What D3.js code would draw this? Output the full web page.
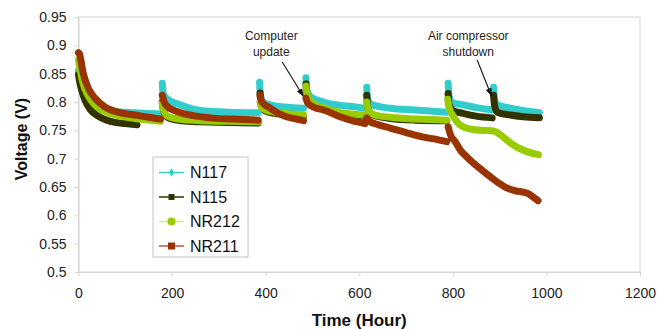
<!DOCTYPE html>
<html>
<head>
<meta charset="utf-8">
<script src="https://cdn.jsdelivr.net/npm/d3@7"></script>
<style>
  body { margin: 0; background: #fff; }
  text { font-family: Arial, "Liberation Sans", sans-serif; }
</style>
</head>
<body>
<svg id="chart" width="659" height="329"></svg>
<script>
// Tick values
const xTicks = [0, 200, 400, 600, 800, 1000, 1200];
const yTicks = [0.5, 0.55, 0.6, 0.65, 0.7, 0.75, 0.8, 0.85, 0.9, 0.95];

// Series names and colours
const seriesNames = ["N117", "N115", "NR212", "NR211"];
const seriesColors = ["#33cccc", "#333300", "#99cc00", "#993300"];

// Cell voltage vs. time [hour, volt]; null separates test runs
const n117 = [
  [0,0.855],[5,0.83],[12,0.81],[20,0.80],[35,0.79],[60,0.785],[100,0.782],[140,0.78],[175,0.779], null,
  [179,0.833],[181,0.815],[190,0.805],[217,0.795],[260,0.785],[320,0.782],[384,0.781], null,
  [387,0.835],[389,0.812],[394,0.80],[410,0.795],[440,0.791],[481,0.789], null,
  [486,0.843],[488,0.822],[495,0.81],[523,0.80],[560,0.794],[596,0.791],[612,0.789], null,
  [616,0.826],[618,0.805],[625,0.796],[666,0.789],[720,0.786],[787,0.782], null,
  [790,0.833],[792,0.81],[800,0.798],[822,0.795],[850,0.79],[884,0.786], null,
  [887,0.826],[889,0.805],[895,0.795],[923,0.789],[950,0.785],[985,0.781]
];
const n115 = [
  [0,0.848],[4,0.83],[9,0.815],[14,0.803],[25,0.787],[42,0.775],[60,0.768],[78,0.764],[100,0.762],[125,0.76], null,
  [179,0.80],[182,0.784],[190,0.773],[220,0.767],[260,0.765],[320,0.764],[384,0.763], null,
  [388,0.816],[390,0.795],[400,0.784],[420,0.78],[450,0.777],[481,0.775], null,
  [486,0.832],[488,0.815],[497,0.798],[523,0.788],[560,0.779],[596,0.776],[612,0.775], null,
  [616,0.812],[618,0.79],[630,0.777],[666,0.771],[720,0.768],[787,0.767], null,
  [790,0.815],[792,0.795],[800,0.785],[822,0.78],[850,0.775],[884,0.772], null,
  [887,0.812],[889,0.795],[895,0.782],[923,0.777],[950,0.774],[985,0.772]
];
const nr212 = [
  [0,0.874],[5,0.85],[10,0.832],[20,0.812],[35,0.795],[60,0.782],[90,0.775],[120,0.771],[150,0.768],[175,0.766], null,
  [179,0.798],[182,0.785],[190,0.775],[220,0.769],[260,0.767],[320,0.766],[384,0.765], null,
  [388,0.80],[391,0.79],[400,0.786],[420,0.782],[450,0.779],[481,0.777], null,
  [486,0.828],[489,0.812],[497,0.80],[523,0.79],[560,0.781],[596,0.778],[612,0.777], null,
  [616,0.80],[619,0.787],[630,0.778],[666,0.773],[720,0.77],[787,0.768], null,
  [789,0.805],[792,0.79],[801,0.775],[812,0.762],[822,0.756],[840,0.752],[859,0.75],[887,0.749],
  [897,0.745],[908,0.738],[923,0.728],[938,0.72],[960,0.712],[983,0.707]
];
const nr211 = [
  [0,0.887],[2,0.885],[10,0.851],[20,0.826],[35,0.807],[57,0.791],[84,0.782],[121,0.777],[150,0.773],[175,0.77], null,
  [179,0.812],[183,0.80],[190,0.792],[202,0.786],[232,0.778],[281,0.772],[330,0.77],[384,0.768], null,
  [388,0.812],[392,0.80],[408,0.79],[425,0.781],[444,0.774],[465,0.77],[481,0.767], null,
  [486,0.807],[490,0.798],[505,0.79],[523,0.786],[559,0.774],[585,0.767],[612,0.762], null,
  [616,0.772],[622,0.766],[640,0.76],[666,0.754],[700,0.746],[737,0.738],[765,0.734],[787,0.73], null,
  [790,0.756],[795,0.742],[805,0.73],[816,0.715],[830,0.703],[844,0.692],[862,0.68],[880,0.668],
  [898,0.657],[916,0.648],[935,0.643],[950,0.641],[962,0.638],[972,0.632],[982,0.626]
];
const seriesData = [n117, n115, nr212, nr211];

// Event notes: label centre [hour, volt], arrow from/to [hour, volt]
const notes = [
  { lines: ["Computer", "update"], at: [412, 0.909], from: [435, 0.871], to: [480, 0.811] },
  { lines: ["Air compressor", "shutdown"], at: [833, 0.909], from: [852, 0.874], to: [882, 0.812] }
];

const svg = d3.select("#chart");
const plot = { left: 78.5, right: 640, top: 17, bottom: 272 };

const x = d3.scaleLinear().domain([0, 1200]).range([plot.left, plot.right]);
const y = d3.scaleLinear().domain([0.5, 0.95]).range([plot.bottom, plot.top]);

// Plot frame
svg.append("rect")
  .attr("x", plot.left).attr("y", plot.top)
  .attr("width", plot.right - plot.left).attr("height", plot.bottom - plot.top)
  .attr("fill", "none").attr("stroke", "#d4d4d4").attr("stroke-width", 1);

// Axes
const xAxis = svg.append("g")
  .attr("transform", `translate(0,${plot.bottom})`)
  .call(d3.axisBottom(x).tickValues(xTicks).tickSize(4).tickPadding(12).tickSizeOuter(0)
    .tickFormat(d => String(d)));
const yAxis = svg.append("g")
  .attr("transform", `translate(${plot.left},0)`)
  .call(d3.axisLeft(y).tickValues(yTicks).tickSize(4).tickPadding(8).tickSizeOuter(0)
    .tickFormat(d => String(+d.toFixed(2))));
[xAxis, yAxis].forEach(g => {
  g.select(".domain").attr("stroke", "#d4d4d4");
  g.selectAll(".tick line").attr("stroke", "#d4d4d4");
  g.selectAll(".tick text").attr("fill", "#222").attr("font-size", 14)
    .attr("font-family", "Arial, 'Liberation Sans', sans-serif");
});

// Axis titles
svg.append("text")
  .attr("x", (plot.left + plot.right) / 2).attr("y", 326)
  .attr("text-anchor", "middle").attr("font-weight", "bold").attr("font-size", 17)
  .attr("fill", "#111").text("Time (Hour)");
svg.append("text")
  .attr("transform", `translate(27,139) rotate(-90)`)
  .attr("text-anchor", "middle").attr("font-weight", "bold").attr("font-size", 16)
  .attr("fill", "#111").text("Voltage (V)");

// Data bands (dense markers render as thick lines)
const line = d3.line()
  .defined(d => d !== null)
  .x(d => x(d[0])).y(d => y(d[1]))
  .curve(d3.curveMonotoneX);

const dataG = svg.append("g");
seriesData.forEach((data, i) => {
  dataG.append("path")
    .attr("d", line(data))
    .attr("fill", "none")
    .attr("stroke", seriesColors[i])
    .attr("stroke-width", 7)
    .attr("stroke-linejoin", "round")
    .attr("stroke-linecap", "round");
});

// Event notes with arrows
const defs = svg.append("defs");
defs.append("marker")
  .attr("id", "arrow").attr("viewBox", "0 0 10 10")
  .attr("refX", 9).attr("refY", 5)
  .attr("markerWidth", 7).attr("markerHeight", 7)
  .attr("orient", "auto")
  .append("path").attr("d", "M0,1 L10,5 L0,9 Z").attr("fill", "#111");

notes.forEach(n => {
  const t = svg.append("text")
    .attr("x", x(n.at[0])).attr("y", y(n.at[1]))
    .attr("text-anchor", "middle").attr("font-size", 12).attr("fill", "#222");
  n.lines.forEach((s, k) => {
    t.append("tspan").attr("x", x(n.at[0])).attr("dy", k === 0 ? 0 : 16).text(s);
  });
  svg.append("line")
    .attr("x1", x(n.from[0])).attr("y1", y(n.from[1]))
    .attr("x2", x(n.to[0])).attr("y2", y(n.to[1]))
    .attr("stroke", "#111").attr("stroke-width", 1.1)
    .attr("marker-end", "url(#arrow)");
});

// Legend
const lg = svg.append("g");
lg.append("rect")
  .attr("x", 153).attr("y", 157).attr("width", 95).attr("height", 100)
  .attr("fill", "#fff").attr("stroke", "#c4c4c4");
const legendLine = ["#33cccc", "#333300", "#ccee88", "#bb5544"];
seriesNames.forEach((name, i) => {
  const cy = 172.5 + i * 24.5;
  const g = lg.append("g");
  g.append("line").attr("x1", 159).attr("x2", 184).attr("y1", cy).attr("y2", cy)
    .attr("stroke", legendLine[i]).attr("stroke-width", 1.5);
  if (i === 0) {
    g.append("path").attr("d", d3.symbol(d3.symbolDiamond, 22)()).attr("transform", `translate(171.5,${cy})`)
      .attr("fill", seriesColors[i]);
  } else if (i === 1) {
    g.append("rect").attr("x", 168.5).attr("y", cy - 3).attr("width", 6).attr("height", 6)
      .attr("fill", seriesColors[i]);
  } else if (i === 2) {
    g.append("circle").attr("cx", 171.5).attr("cy", cy).attr("r", 4).attr("fill", seriesColors[i]);
  } else {
    g.append("rect").attr("x", 168).attr("y", cy - 3.5).attr("width", 7).attr("height", 7)
      .attr("fill", seriesColors[i]);
  }
  g.append("text").attr("x", 190).attr("y", cy).attr("dy", "0.36em")
    .attr("font-size", 16).attr("fill", "#111").text(name);
});
</script>
</body>
</html>
